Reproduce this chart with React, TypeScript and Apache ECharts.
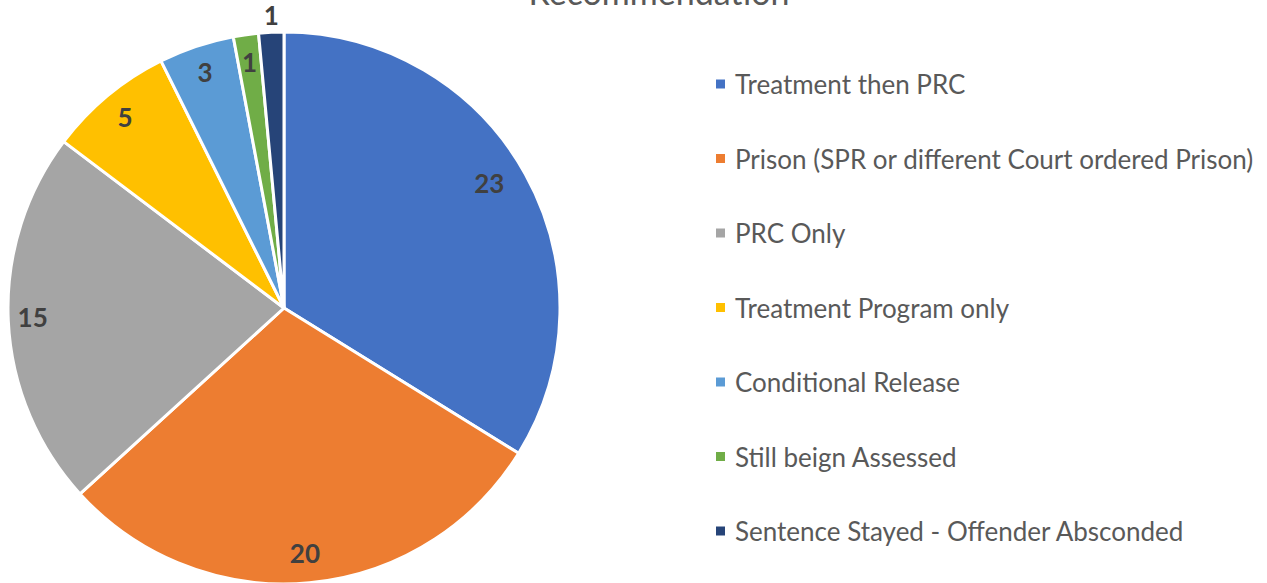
import React, { useEffect, useRef } from "react";
import * as echarts from "echarts";

const categories = [
  "Treatment then PRC",
  "Prison (SPR or different Court ordered Prison)",
  "PRC Only",
  "Treatment Program only",
  "Conditional Release",
  "Still beign Assessed",
  "Sentence Stayed - Offender Absconded",
];
const values = [23, 20, 15, 5, 3, 1, 1];
const colors = ["#4472C4", "#ED7D31", "#A5A5A5", "#FFC000", "#5B9BD5", "#70AD47", "#264478"];
const outsideLabelIndex = 6;

const FONT = "Lato, 'Open Sans', sans-serif";

// small per-label nudges to mimic Excel's "best fit" label placement
const labelNudges: Record<number, [number, number]> = {
  0: [-12, -4],
  1: [-2, -3],
  2: [-3, -2],
};

export default function App() {
  const ref = useRef<HTMLDivElement>(null);
  useEffect(() => {
    document.body.style.margin = "0";
    if (!ref.current) return;
    const chart = echarts.init(ref.current, undefined, { renderer: "svg" });
    const R = 276;
    const center = [284, 308];
    const labelStyle = {
      color: "#404040",
      fontSize: 26,
      fontWeight: "bold" as const,
      fontFamily: FONT,
    };
    const mainData = categories.map((name, i) => ({
      name,
      value: values[i],
      itemStyle: { color: colors[i] },
    }));
    const innerLabelData = categories.map((name, i) => ({
      name,
      value: values[i],
      label: { show: i !== outsideLabelIndex },
    }));
    const outerLabelData = categories.map((name, i) => ({
      name,
      value: values[i],
      label: { show: i === outsideLabelIndex },
    }));
    chart.setOption({
      animation: false,
      title: {
        text: "Recommendation",
        left: 654,
        textAlign: "center",
        top: -31,
        textStyle: { color: "#595959", fontSize: 34, fontWeight: "normal", fontFamily: FONT },
      },
      legend: {
        orient: "vertical",
        left: 714,
        top: 69,
        padding: 0,
        itemWidth: 11,
        itemHeight: 11,
        itemGap: 44.5,
        icon: "rect",
        data: categories,
        textStyle: {
          color: "#595959",
          fontSize: 26,
          fontFamily: FONT,
          lineHeight: 30,
          padding: [0, 0, 0, 4],
        },
        selectedMode: false,
      },
      series: [
        {
          type: "pie",
          center,
          radius: [0, R],
          startAngle: 90,
          clockwise: true,
          itemStyle: { borderColor: "#FFFFFF", borderWidth: 3 },
          label: { show: false },
          labelLine: { show: false },
          emphasis: { disabled: true },
          data: mainData,
        },
        {
          type: "pie",
          center,
          radius: [R * 0.78, R],
          startAngle: 90,
          clockwise: true,
          silent: true,
          itemStyle: { color: "transparent", borderWidth: 0 },
          label: { position: "inside", formatter: "{c}", ...labelStyle },
          labelLine: { show: false },
          labelLayout: (params: any) => {
            const n = labelNudges[params.dataIndex];
            return n ? { dx: n[0], dy: n[1] } : {};
          },
          emphasis: { disabled: true },
          data: innerLabelData,
        },
        {
          type: "pie",
          center,
          radius: [R, R * 1.12],
          startAngle: 90,
          clockwise: true,
          silent: true,
          itemStyle: { color: "transparent", borderWidth: 0 },
          label: { position: "inside", formatter: "{c}", ...labelStyle },
          labelLine: { show: false },
          labelLayout: () => ({ dx: 1, dy: 2 }),
          emphasis: { disabled: true },
          data: outerLabelData,
        },
      ],
    });
    return () => chart.dispose();
  }, []);
  return <div ref={ref} style={{ width: 1267, height: 583 }} />;
}
